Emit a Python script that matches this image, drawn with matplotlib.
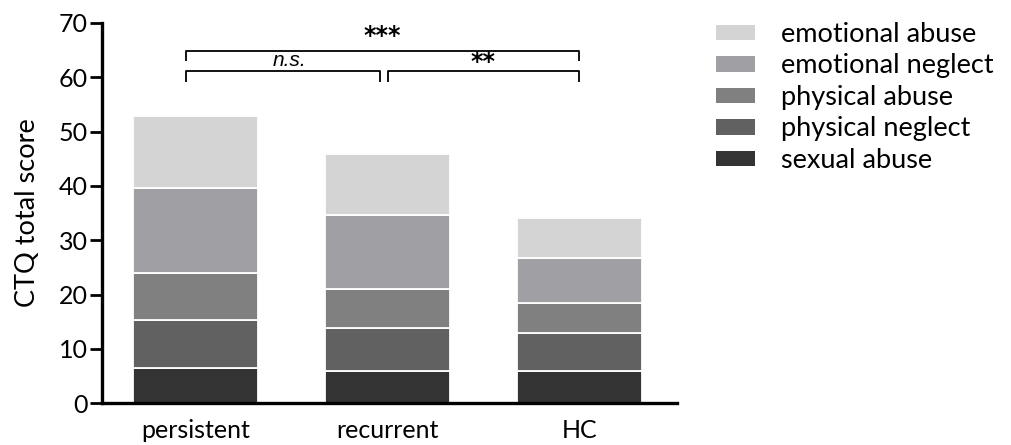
import matplotlib.pyplot as plt
import numpy as np
from matplotlib.patches import Patch

groups = ["persistent", "recurrent", "HC"]
# stacked from bottom to top
categories = ["sexual abuse", "physical neglect", "physical abuse",
              "emotional neglect", "emotional abuse"]
sexual_abuse = [6.5, 6.0, 6.0]
physical_neglect = [8.9, 7.8, 6.9]
physical_abuse = [8.5, 7.3, 5.5]
emotional_neglect = [15.7, 13.6, 8.4]
emotional_abuse = [13.3, 11.1, 7.3]
colors = ["#333333", "#616161", "#808080", "#a0a0a4", "#d4d4d4"]

yticks = [0, 10, 20, 30, 40, 50, 60, 70]

plt.rcParams['font.family'] = ['Lato', 'DejaVu Sans']


def bracket(ax, x1, x2, y, drop, lw=1.3):
    ax.plot([x1, x1, x2, x2], [y - drop, y, y, y - drop],
            color='black', lw=lw, solid_capstyle='butt', clip_on=False)


def main():
    fig = plt.figure(figsize=(10.12, 4.45), dpi=100)
    ax = fig.add_axes([0.1008, 0.0937, 0.568, 0.855])

    x = np.arange(len(groups))
    series = [sexual_abuse, physical_neglect, physical_abuse,
              emotional_neglect, emotional_abuse]
    bottom = np.zeros(len(groups))
    for vals, col in zip(series, colors):
        ax.bar(x, vals, bottom=bottom, width=0.653, color=col,
               edgecolor='white', linewidth=1.3)
        bottom += np.array(vals)

    ax.set_xlim(-0.49, 2.51)
    ax.set_ylim(0, 70)
    ax.set_yticks(yticks)
    ax.set_xticks(x)
    ax.set_xticklabels(groups, fontsize=18)
    ax.tick_params(axis='x', length=0, pad=11)
    ax.tick_params(axis='y', length=9, width=2, direction='out',
                   labelsize=18, pad=1)
    ax.set_ylabel("CTQ total score", fontsize=19.5, labelpad=14)

    for s in ['top', 'right']:
        ax.spines[s].set_visible(False)
    for s in ['left', 'bottom']:
        ax.spines[s].set_linewidth(2.4)

    # significance brackets
    bracket(ax, -0.05, 2.0, 64.9, 2.0)
    bracket(ax, -0.05, 0.96, 61.1, 2.0)
    bracket(ax, 1.0, 2.0, 61.1, 2.0)
    ax.text(0.97, 65.4, "***", ha='center', va='bottom', fontsize=17,
            family='DejaVu Sans', fontweight='bold')
    ax.text(0.49, 61.4, "n.s.", ha='center', va='bottom', fontsize=15,
            family='Liberation Sans', style='italic')
    ax.text(1.5, 60.6, "**", ha='center', va='bottom', fontsize=17,
            family='DejaVu Sans', fontweight='bold')

    handles = [Patch(facecolor=c, edgecolor='none', label=l)
               for c, l in zip(colors[::-1], categories[::-1])]
    fig.legend(handles=handles, loc='upper left',
               bbox_to_anchor=(0.697, 0.975), frameon=False, fontsize=19.5,
               handlelength=1.45, handleheight=0.5, handletextpad=0.95,
               labelspacing=0.24, borderaxespad=0)

    fig.savefig("out.png", dpi=100)


if __name__ == '__main__':
    main()
